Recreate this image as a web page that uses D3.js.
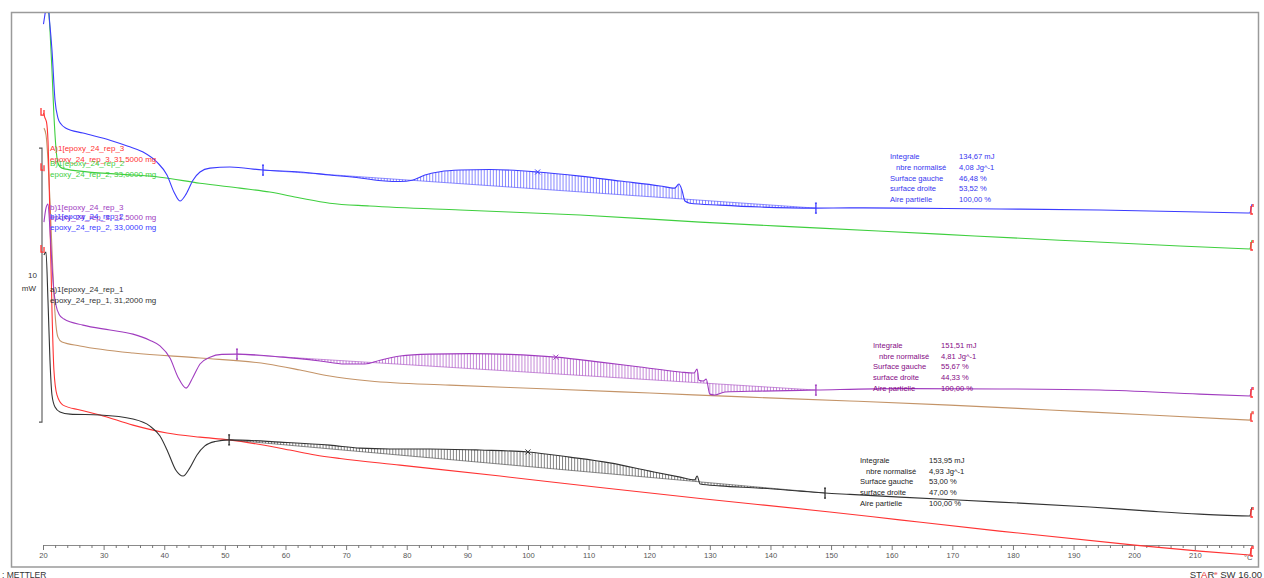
<!DOCTYPE html>
<html><head><meta charset="utf-8">
<script src="https://cdn.jsdelivr.net/npm/d3@7"></script>
<style>html,body{margin:0;padding:0;background:#fff;}svg{display:block;}</style>
</head><body>
<svg id="c" width="1264" height="578"></svg>
<script>
// ---------- DATA (temperature °C, heat flow mW) ----------
const blueT = [20.08,20.33,20.58,20.82,21.07,21.48,21.98,22.47,22.97,23.79,26.6,31.05,34.02,36.5,38.8,40.45,41.6,42.6,43.6,44.74,45.9,47.54,50.84,56.29,62.4,67.3,72.3,76.4,78.9,80.9,83.0,85.5,88.8,93.7,101.6,108.6,115.2,121.8,124.2,124.9,125.4,125.9,126.7,131.7,138.3,147.5,153.1,161.3,177.8,194.3,210.8,219.1];
const blueV = [19.82,20.18,20.51,20.51,19.96,18.87,17.04,16.39,16.17,16.02,15.84,15.58,15.36,15.15,14.78,14.31,13.69,13.36,13.61,14.12,14.42,14.56,14.6,14.49,14.42,14.31,14.2,14.09,14.07,14.12,14.31,14.43,14.49,14.51,14.42,14.27,14.09,13.91,13.83,13.98,13.76,13.36,13.28,13.21,13.14,13.1,13.11,13.1,13.07,13.03,12.96,12.92];

const greenT = [20.9,21.15,21.48,21.8,22.14,22.47,23.13,26.1,32.7,39.3,45.9,52.5,57.4,62.4,67.3,73.9,88.8,108.6,128.4,148.2,167.9,187.7,207.5,219.1];
const greenV = [20.51,19.6,18.14,16.5,15.29,14.74,14.56,14.45,14.34,14.23,14.01,13.83,13.69,13.47,13.28,13.18,13.03,12.85,12.59,12.37,12.15,11.93,11.72,11.61];

const purpleT = [20.16,20.49,20.82,21.15,21.48,21.81,22.14,22.64,23.46,26.6,31.05,34.84,37.6,39.3,40.95,42.27,43.6,44.74,45.9,47.54,49.5,52.0,59.6,65.7,69.8,73.1,75.6,78.9,83.8,90.4,97.0,104.6,111.9,118.5,125.1,127.4,127.9,128.2,128.9,129.4,130.0,130.8,132.5,138.3,147.5,161.4,177.8,194.3,210.8,219.1];
const purpleV = [12.59,13.1,13.25,12.3,11.02,10.04,9.56,9.23,9.05,8.83,8.65,8.5,8.28,8.07,7.63,6.93,6.53,6.93,7.41,7.66,7.76,7.77,7.66,7.52,7.41,7.41,7.55,7.7,7.77,7.79,7.76,7.66,7.48,7.3,7.12,7.08,7.23,6.82,6.79,6.86,6.31,6.28,6.39,6.42,6.46,6.51,6.5,6.46,6.31,6.24];

const brownT = [20.16,20.5,20.82,21.15,21.48,21.8,22.14,22.47,23.13,26.1,34.84,45.9,57.0,62.4,67.3,73.9,87.1,103.6,120.1,136.6,153.1,169.6,186.1,202.6,219.1];
const brownV = [16.02,15.77,14.85,13.39,11.57,9.93,8.83,8.39,8.21,8.07,7.81,7.63,7.41,7.19,6.97,6.79,6.64,6.5,6.35,6.2,6.06,5.91,5.73,5.55,5.36];

const blackT = [20.16,20.49,20.82,21.15,21.48,21.98,22.8,24.45,29.4,34.84,37.6,39.3,40.6,41.9,43.1,44.2,45.4,46.7,48.4,50.7,59.1,67.3,72.3,77.2,83.8,92.1,100.0,106.9,113.5,120.1,125.1,127.5,127.9,128.4,131.7,138.3,144.9,149.0,153.1,161.4,177.8,192.7,202.6,210.8,219.1];
const blackV = [11.39,11.5,9.74,7.55,6.28,5.84,5.66,5.58,5.55,5.4,5.15,4.78,4.2,3.54,3.32,3.61,4.09,4.42,4.58,4.64,4.56,4.45,4.34,4.31,4.31,4.27,4.2,4.01,3.8,3.5,3.28,3.18,3.32,3.03,2.96,2.88,2.77,2.7,2.65,2.55,2.37,2.19,2.04,1.93,1.86];

const redT = [20.08,20.33,20.58,20.82,21.15,21.48,21.8,22.3,23.3,26.1,29.4,34.84,40.45,45.9,50.7,55.8,60.7,64.9,69.0,78.9,95.4,111.9,128.4,149.8,161.3,177.8,200.1,210.8,219.1];
const redV = [16.57,16.39,16.24,15.58,12.66,9.38,7.19,6.28,5.91,5.73,5.55,5.18,4.89,4.74,4.64,4.47,4.27,4.09,3.96,3.72,3.32,2.9,2.5,2.01,1.72,1.31,0.8,0.58,0.44];

// integration limits [start, peak mark, end] in °C
const integBlue = [56.29, 101.6, 147.5];
const integPurple = [52.0, 104.6, 147.5];
const integBlack = [50.7, 100.0, 149.0];

const xTicks = [20,30,40,50,60,70,80,90,100,110,120,130,140,150,160,170,180,190,200,210];
const xUnit = "°C";
const scaleBarBase = 5.29, scaleBarSpan = 10;   // mW
const leftMarkV = [16.57, 14.56, 11.57];

const curveLabels = [
  ["A)1[epoxy_24_rep_3", "epoxy_24_rep_3, 31,5000 mg"],
  ["B)1[epoxy_24_rep_2", "epoxy_24_rep_2, 33,0000 mg"],
  ["b)1[epoxy_24_rep_3", "epoxy_24_rep_3, 31,5000 mg"],
  ["b)1[epoxy_24_rep_2", "epoxy_24_rep_2, 33,0000 mg"],
  ["a)1[epoxy_24_rep_1", "epoxy_24_rep_1, 31,2000 mg"]
];
const resultNames = ["Integrale", "nbre normalisé", "Surface gauche", "surface droite", "Aire partielle"];
const resultsBlue = ["134,67 mJ", "4,08 Jg^-1", "46,48 %", "53,52 %", "100,00 %"];
const resultsPurple = ["151,51 mJ", "4,81 Jg^-1", "55,67 %", "44,33 %", "100,00 %"];
const resultsBlack = ["153,95 mJ", "4,93 Jg^-1", "53,00 %", "47,00 %", "100,00 %"];

// ---------- DRAWING ----------
const C = {blue:'#3b3bff', green:'#3fcf3f', purple:'#a03cbf', brown:'#c49468', black:'#333333', red:'#ff3333'};
const FONT = '"Liberation Sans", Arial, sans-serif';
const svg = d3.select('#c').attr('font-family', FONT);
const x = d3.scaleLinear().domain([20, 219.6]).range([43, 1253]);
const y = d3.scaleLinear().domain([0, 20.26]).range([567, 12]);

svg.append('defs').append('clipPath').attr('id','clip')
  .append('rect').attr('x',12).attr('y',13).attr('width',1246).attr('height',553);

// frame
svg.append('rect').attr('x',11.5).attr('y',12.5).attr('width',1247).attr('height',554.5)
  .attr('fill','none').attr('stroke','#9a9a9a').attr('stroke-width',1.5);

// axis
const gx = svg.append('g').attr('transform','translate(0,545)')
  .call(d3.axisBottom(x).tickValues(xTicks).tickSize(5).tickSizeOuter(0).tickPadding(3).tickFormat(d=>d));
gx.select('.domain').attr('stroke','#8a8a8a');
gx.selectAll('.tick line').attr('stroke','#777');
gx.selectAll('.tick text').attr('fill','#555').attr('font-size','7.6px').attr('font-family',FONT);
const gm = svg.append('g').attr('transform','translate(0,545)')
  .call(d3.axisBottom(x).tickValues(d3.range(22, 219, 2).filter(d=>d%10!==0)).tickSize(3).tickFormat(''));
gm.select('.domain').remove();
gm.selectAll('.tick line').attr('stroke','#777');
svg.append('text').attr('x', x(218.8)).attr('y', 560).attr('text-anchor','middle')
  .attr('font-size','7.6px').attr('fill','#555').text(xUnit);

// scale bar
const sb = svg.append('g').attr('stroke','#555').attr('stroke-width',1.1).attr('fill','none');
sb.append('path').attr('d', `M${x(20)-4},${y(scaleBarBase+scaleBarSpan)}H${x(20)-1}V${y(scaleBarBase)}H${x(20)-4}`);
svg.append('text').attr('x',37).attr('y',278).attr('text-anchor','end').attr('font-size','8px').attr('fill','#333').text(scaleBarSpan);
svg.append('text').attr('x',36).attr('y',291).attr('text-anchor','end').attr('font-size','8px').attr('fill','#333').text('mW');

// curves
const line = d3.line().x(d=>x(d[0])).y(d=>y(d[1])).curve(d3.curveMonotoneX);
const curves = [
  {T:greenT, V:greenV, c:C.green},
  {T:brownT, V:brownV, c:C.brown},
  {T:redT, V:redV, c:C.red},
  {T:blackT, V:blackV, c:C.black, integ:integBlack},
  {T:purpleT, V:purpleV, c:C.purple, integ:integPurple},
  {T:blueT, V:blueV, c:C.blue, integ:integBlue}
];
function interp(T, V, t){
  for (let i=0;i<T.length-1;i++){
    if (t>=T[i] && t<=T[i+1]) { const f=(t-T[i])/(T[i+1]-T[i]); return V[i]+f*(V[i+1]-V[i]); }
  }
  return t<T[0]?V[0]:V[V.length-1];
}
const plot = svg.append('g').attr('clip-path','url(#clip)');
curves.forEach(cv=>{
  const pts = cv.T.map((t,i)=>[t, cv.V[i]]);
  if (cv.integ){
    const [t0, tp, t1] = cv.integ;
    const v0 = interp(cv.T, cv.V, t0), v1 = interp(cv.T, cv.V, t1);
    const hg = plot.append('g').attr('stroke', cv.c).attr('stroke-width',0.7).attr('opacity',0.85);
    d3.range(t0+0.5, t1, 0.5).forEach(t=>{
      const vc = interp(cv.T, cv.V, t);
      const vb = v0 + (t-t0)/(t1-t0)*(v1-v0);
      hg.append('line').attr('x1',x(t)).attr('x2',x(t)).attr('y1',y(vc)).attr('y2',y(vb));
    });
    // baseline
    plot.append('line').attr('x1',x(t0)).attr('y1',y(v0)).attr('x2',x(t1)).attr('y2',y(v1))
      .attr('stroke',cv.c).attr('stroke-width',0.7).attr('opacity',0.8);
  }
  plot.append('path').datum(pts).attr('d',line).attr('fill','none').attr('stroke',cv.c).attr('stroke-width',1.1);
  if (cv.integ){
    const [t0, tp, t1] = cv.integ;
    [t0, t1].forEach(t=>{
      const px=x(t), py=y(interp(cv.T, cv.V, t));
      const g = svg.append('g').attr('stroke',cv.c).attr('stroke-width',1.3).attr('fill','none');
      g.append('path').attr('d',`M${px},${py-5}V${py+5}M${px-1},${py-5}h2M${px-1},${py+5}h2`);
    });
    const px=x(tp), py=y(interp(cv.T, cv.V, tp));
    svg.append('path').attr('d',`M${px-2.5},${py-2.5}L${px+2.5},${py+2.5}M${px-2.5},${py+2.5}L${px+2.5},${py-2.5}`)
      .attr('stroke',cv.c).attr('stroke-width',1);
  }
  // right end marks
  const te = cv.T[cv.T.length-1], ve = cv.V[cv.V.length-1];
  const ex = x(te), ey = y(ve);
  svg.append('path').attr('d',`M${ex},${ey}L${ex+2},${ey-9}`).attr('stroke',cv.c).attr('stroke-width',1).attr('fill','none');
  svg.append('path').attr('d',`M${ex+1},${ey-7}V${ey+1}h2M${ex+3},${ey-9}v3`).attr('stroke',C.red).attr('stroke-width',1.4).attr('fill','none');
});
// left start marks
leftMarkV.forEach(v=>{
  const px=x(20), py=y(v);
  svg.append('path').attr('d',`M${px-2},${py-5}V${py+2}h2M${px+1},${py-3}v6`).attr('stroke',C.red).attr('stroke-width',1.3).attr('fill','none');
});

// curve labels
const labColors = [C.red, C.green, C.purple, C.blue, C.black];
const labY = [[151,162],[166,176.5],[210,220],[218.5,229.5],[292,303]];
curveLabels.forEach((lb,i)=>{
  lb.forEach((s,j)=>{
    svg.append('text').attr('x',50).attr('y',labY[i][j]).attr('font-size','8px').attr('fill',labColors[i]).text(s);
  });
});

// result blocks
function block(vals, color, lx, vx, y0){
  resultNames.forEach((n,i)=>{
    const yy = y0 + i*10.7;
    svg.append('text').attr('x', lx + (i===1?6:0)).attr('y',yy).attr('font-size','7.6px').attr('fill',color).text(n);
    svg.append('text').attr('x', vx).attr('y',yy).attr('font-size','7.6px').attr('fill',color).text(vals[i]);
  });
}
block(resultsBlue, '#3535f0', 890, 959, 159.3);
block(resultsPurple, '#850a85', 873, 941, 347.8);
block(resultsBlack, '#222', 860, 929, 462.8);

// footer
svg.append('text').attr('x',2).attr('y',577.5).attr('font-size','8.5px').attr('fill','#333').text(': METTLER');
const st = svg.append('text').attr('x',1262).attr('y',577.5).attr('text-anchor','end').attr('font-size','9.5px').attr('fill','#333');
st.append('tspan').text('ST');
st.append('tspan').attr('fill','#e03030').text('A');
st.append('tspan').text('R');
st.append('tspan').attr('fill','#e03030').attr('font-size','6px').attr('dy','-3').text('e');
st.append('tspan').attr('dy','3').text(' SW 16.00');
</script>
</body></html>
